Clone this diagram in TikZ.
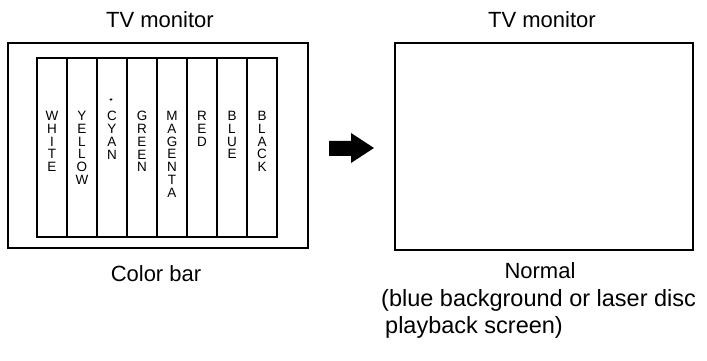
\documentclass[tikz,border=0pt]{standalone}
\usepackage{fontspec}
\setmainfont{Liberation Sans}
\begin{document}
\begin{tikzpicture}[x=1pt,y=1pt,
  frame/.style={draw=black,line width=1.3pt},
  bar/.style={draw=black,line width=1.1pt},
  label/.style={font=\fontsize{22}{26}\selectfont,inner sep=0pt},
  vtext/.style={font=\fontsize{13.5}{12.8}\selectfont,align=center,anchor=north,inner sep=0pt}]
\useasboundingbox (0,0) rectangle (707,361);
% left monitor
\node[label] (t1) at (160,341) {TV monitor};
\draw[frame] (8,318) rectangle (308,113);
\draw[bar] (37,303) rectangle (277,124);
\foreach \x in {67,97,127,157,187,217,247}
  \draw[bar] (\x,303) -- (\x,124);
\node[vtext] (c1) at (52,250) {W\\H\\I\\T\\E};
\node[vtext] (c2) at (82,250) {Y\\E\\L\\L\\O\\W};
\node[vtext] (c3) at (112,250) {C\\Y\\A\\N};
\fill[black] (111,261.5) ellipse (1.6 and 1.1);
\node[vtext] (c4) at (142,250) {G\\R\\E\\E\\N};
\node[vtext] (c5) at (172,250) {M\\A\\G\\E\\N\\T\\A};
\node[vtext] (c6) at (202,250) {R\\E\\D};
\node[vtext] (c7) at (232,250) {B\\L\\U\\E};
\node[vtext] (c8) at (262,250) {B\\L\\A\\C\\K};
\node[label] (cb) at (156,87) {Color bar};
% arrow
\fill[black] (329,220) -- (351,220) -- (351,228) -- (374,213) -- (351,198) -- (351,205) -- (329,205) -- cycle;
% right monitor
\node[label] (t2) at (542,341) {TV monitor};
\draw[frame] (395,318) rectangle (693,111);
\node[label] (nm) at (540,90) {Normal};
\node[label,anchor=west,align=left,font=\fontsize{23.5}{27}\selectfont] (note) at (381,47)
  {(blue background or laser disc\\\hspace{4pt}playback screen)};
\end{tikzpicture}
\end{document}
